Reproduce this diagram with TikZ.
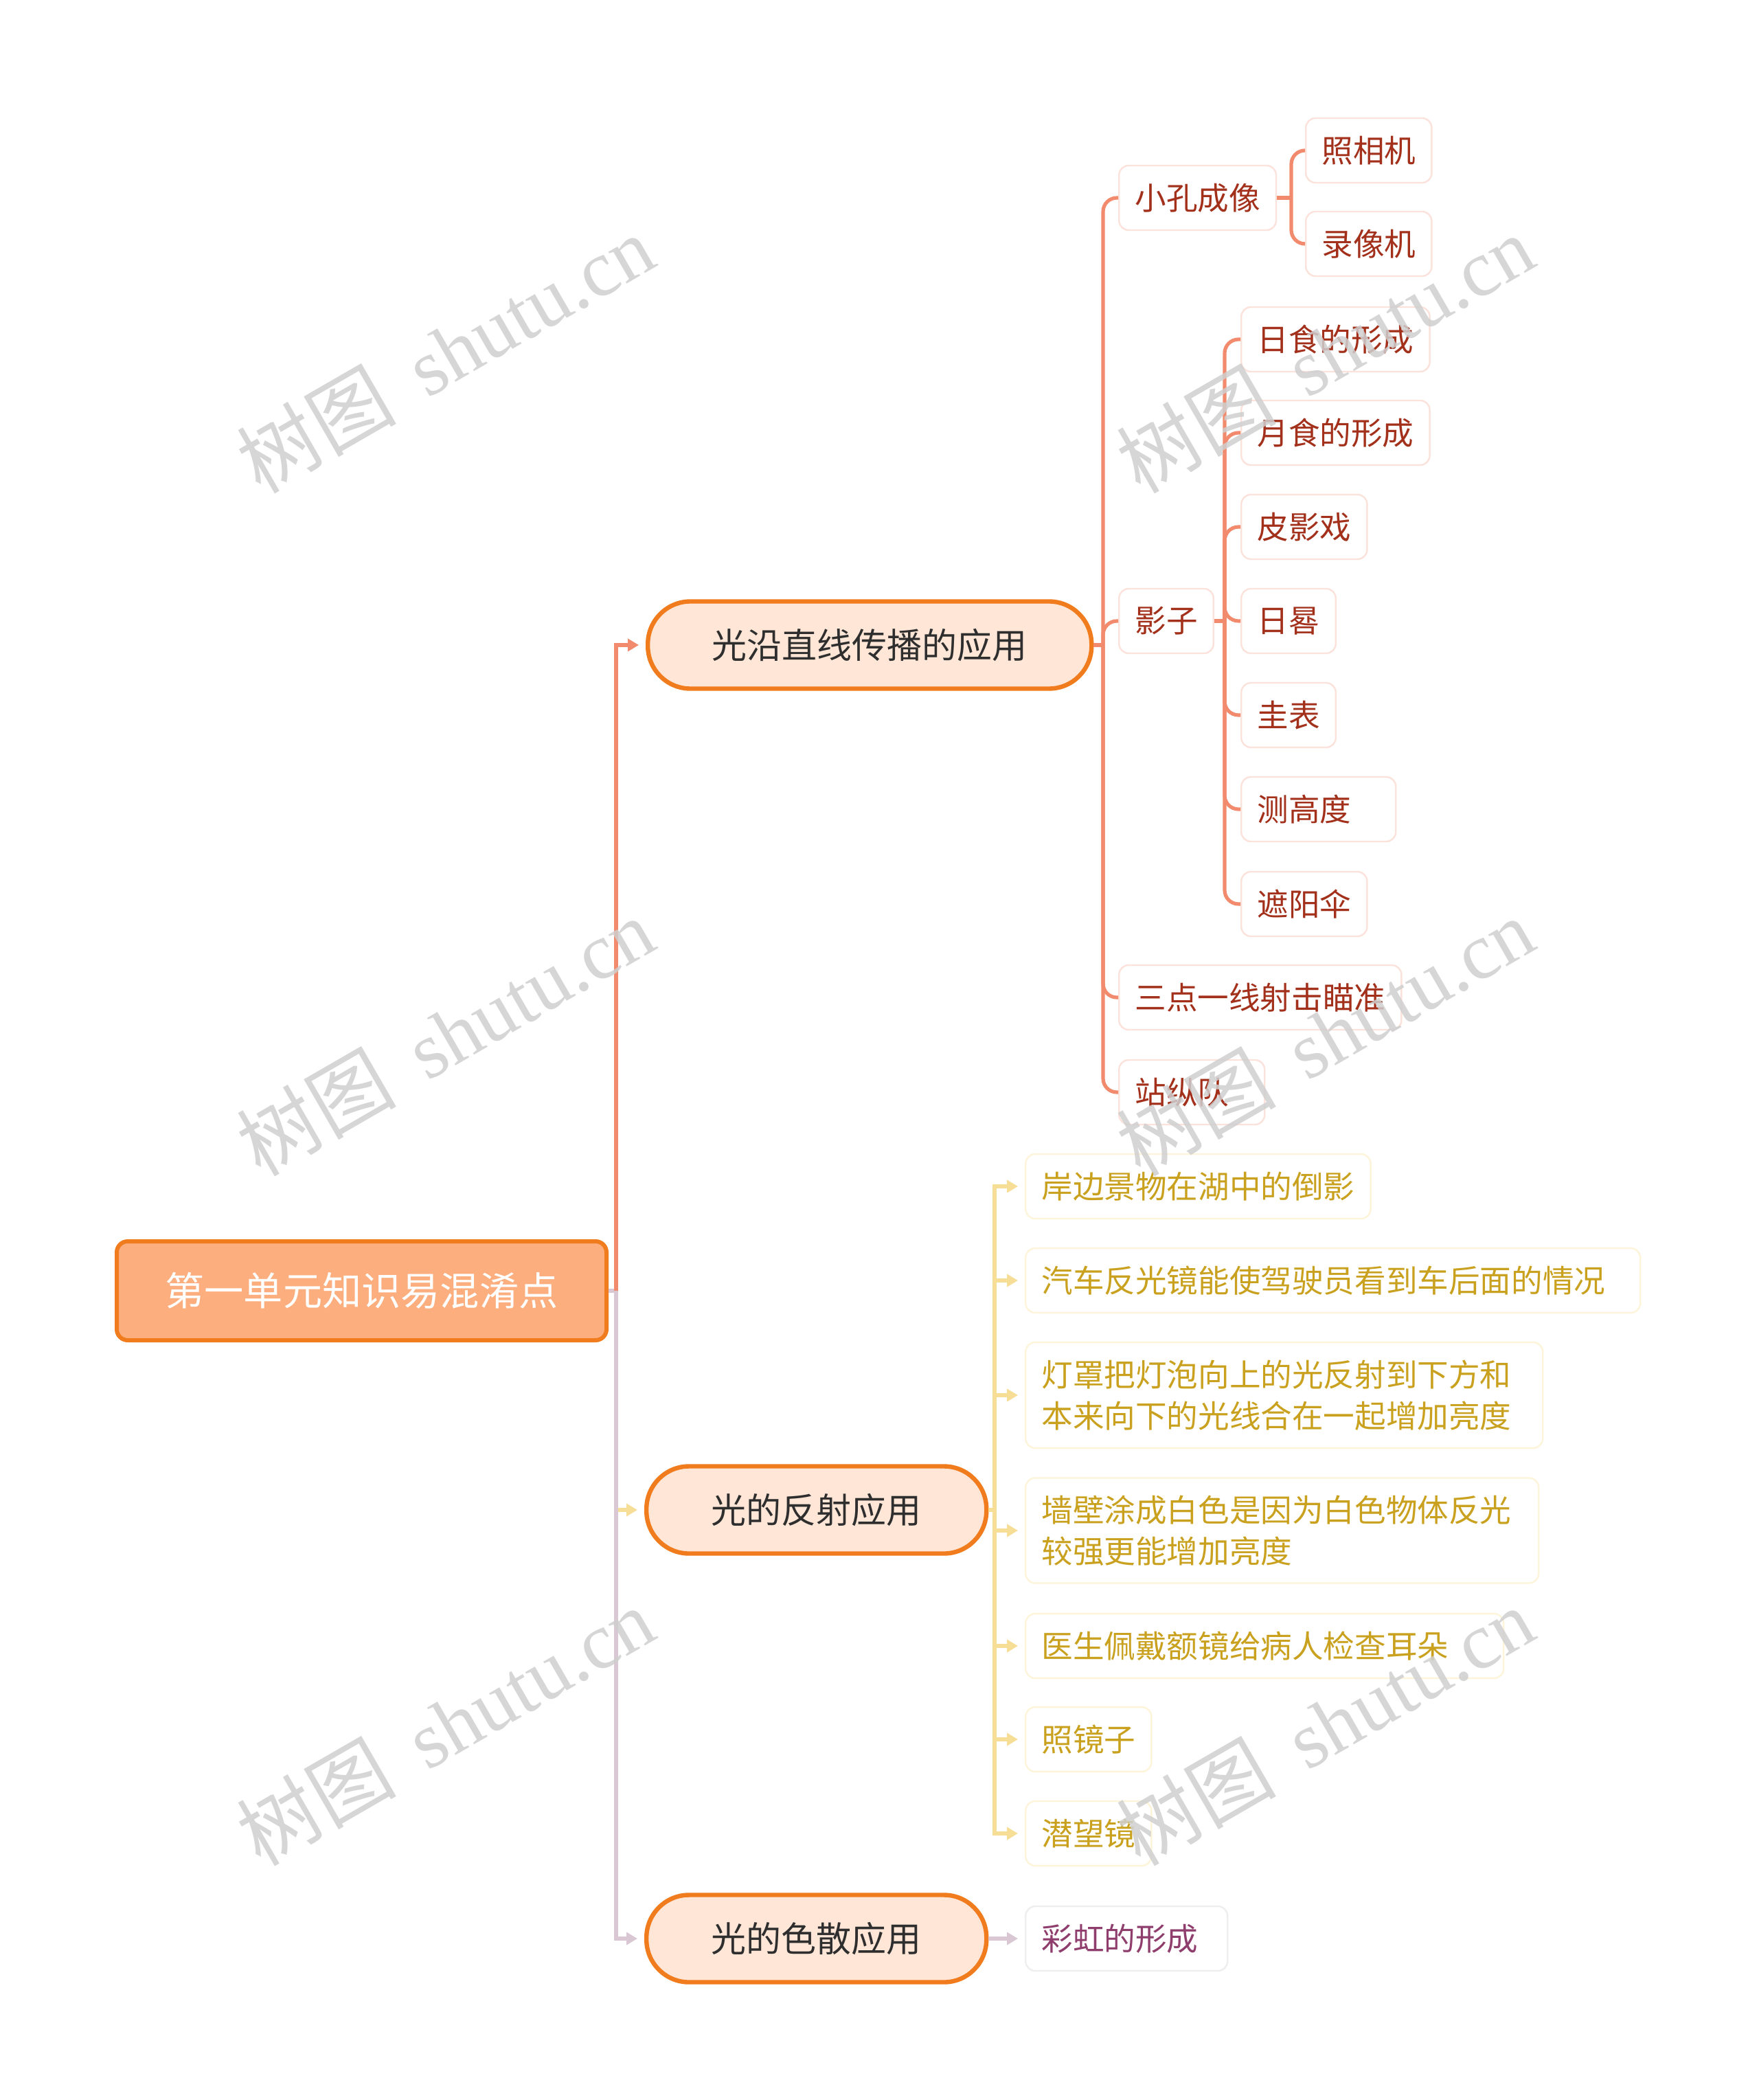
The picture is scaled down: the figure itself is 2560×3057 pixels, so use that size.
\documentclass[tikz,border=0pt]{standalone}
\usepackage{fontspec}
\setmainfont{Noto Sans CJK SC}
\newfontfamily\wmlat{Liberation Serif}
\usetikzlibrary{arrows.meta}
\definecolor{salmon}{HTML}{F28B6E}
\definecolor{greyp}{HTML}{D9C8D3}
\definecolor{yel}{HTML}{F7DE96}
\definecolor{orb}{HTML}{F07C1E}
\definecolor{lonefill}{HTML}{FFE6D7}
\definecolor{lonetxt}{HTML}{2E2E2E}
\definecolor{rootfill}{HTML}{FCAE7E}
\definecolor{pinkb}{HTML}{FBE2DA}
\definecolor{redtxt}{HTML}{A2301B}
\definecolor{yelb}{HTML}{FDF4DA}
\definecolor{goldtxt}{HTML}{C9A11E}
\definecolor{greyb}{HTML}{F0EDEF}
\definecolor{purtxt}{HTML}{8E3D6C}
\definecolor{wmgrey}{HTML}{CFCFCF}
\tikzset{
  rootbox/.style={draw=orb, line width=1.5pt, fill=rootfill, rounded corners=4pt,
    minimum width=178.25pt, minimum height=36pt, text=white,
    font=\fontsize{14.3}{17}\selectfont, inner sep=0pt},
  topicbox/.style={draw=orb, line width=1.6pt, fill=lonefill, rounded corners=15.5pt,
    minimum height=31.75pt, minimum width=#1, text=lonetxt,
    font=\fontsize{12.75}{15}\selectfont, anchor=west, inner sep=0pt},
  redbox/.style={draw=pinkb, line width=0.6pt, fill=white, rounded corners=3.5pt,
    minimum height=23.5pt, inner xsep=5.8pt, inner ysep=0pt, text=redtxt,
    font=\fontsize{11.4}{15}\selectfont, anchor=west, align=left},
  goldbox/.style={redbox, draw=yelb, text=goldtxt},
  purbox/.style={redbox, draw=greyb, text=purtxt},
  salline/.style={draw=salmon, line width=1.3pt, rounded corners=5pt},
  yelline/.style={draw=yel, line width=1.4pt},
  greyline/.style={draw=greyp, line width=1.4pt},
  tipped/.style={-{Triangle[length=4pt,width=4.5pt]}, shorten >=2.5pt},
  watermark/.style={text=wmgrey, text opacity=0.85, rotate=30,
    font=\fontsize{29}{30}\selectfont, inner sep=0pt}
}
\begin{document}
\begin{tikzpicture}[x=0.25pt,y=-0.25pt]
\useasboundingbox (0,0) rectangle (2560,3057);
\fill[white] (0,0) rectangle (2560,3057);

% root and main topics
\node[rootbox] (root) at (526.5,1879) {第一单元知识易混淆点};
\node[topicbox=161.5pt] (ta) at (940,939) {光沿直线传播的应用};
\node[topicbox=123.75pt] (tb) at (938,2198) {光的反射应用};
\node[topicbox=123.75pt] (tc) at (938,2822) {光的色散应用};

% branch 1
\node[redbox] (a1) at (1628,288) {小孔成像};
\node[redbox] (a11) at (1900,219) {照相机};
\node[redbox] (a12) at (1900,355) {录像机};
\node[redbox] (a2) at (1628,904) {影子};
\node[redbox] (a21) at (1806,494) {日食的形成};
\node[redbox] (a22) at (1806,630) {月食的形成};
\node[redbox] (a23) at (1806,767) {皮影戏};
\node[redbox] (a24) at (1806,904) {日晷};
\node[redbox] (a25) at (1806,1041) {圭表};
\node[redbox, text width=44.65pt] (a26) at (1806,1178) {测高度};
\node[redbox] (a27) at (1806,1316) {遮阳伞};
\node[redbox] (a3) at (1628,1452) {三点一线射击瞄准};
\node[redbox, text width=41.4pt] (a4) at (1628,1590) {站纵队};

% branch 2
\node[goldbox] (b1) at (1492,1727) {岸边景物在湖中的倒影};
\node[goldbox, text width=212.15pt] (b2) at (1492,1864) {汽车反光镜能使驾驶员看到车后面的情况};
\node[goldbox, text width=176.65pt, minimum height=38.5pt] (b3) at (1492,2031) {灯罩把灯泡向上的光反射到下方和\\本来向下的光线合在一起增加亮度};
\node[goldbox, text width=175.15pt, minimum height=38.25pt] (b4) at (1492,2228) {墙壁涂成白色是因为白色物体反光\\较强更能增加亮度};
\node[goldbox, text width=162.4pt] (b5) at (1492,2396) {医生佩戴额镜给病人检查耳朵};
\node[goldbox] (b6) at (1492,2532) {照镜子};
\node[goldbox] (b7) at (1492,2669) {潜望镜};

% branch 3
\node[purbox, text width=61.9pt] (c1) at (1492,2822) {彩虹的形成};

% trunk coordinates
\coordinate (t0) at (897,1879);
\coordinate (t1) at (1606,939);
\coordinate (t2) at (1880,288);
\coordinate (t3) at (1783,904);
\coordinate (t4) at (1448,2198);

% level 0 connectors
\draw[greyline] (root.east) -- (t0);
\draw[yelline, tipped] (t0) |- (tb.west);
\draw[greyline, tipped] (t0) |- (tc.west);
\draw[draw=salmon, line width=1.4pt, tipped] (t0) |- (ta.west);

% branch 1 connectors
\draw[salline] (ta.east) -- (t1);
\foreach \n in {a1,a2,a3,a4} \draw[salline] (t1) |- (\n.west);
\draw[salline] (a1.east) -- (t2);
\foreach \n in {a11,a12} \draw[salline] (t2) |- (\n.west);
\draw[salline] (a2.east) -- (t3);
\foreach \n in {a21,a22,a23,a24,a25,a26,a27} \draw[salline] (t3) |- (\n.west);

% branch 2 connectors
\draw[yelline] (tb.east) -- (t4);
\foreach \n in {b1,b2,b3,b4,b5,b6,b7} \draw[yelline, tipped] (t4) |- (\n.west);

% branch 3 connector
\draw[greyline, tipped] (tc.east) -- (c1.west);

% watermarks
\foreach \wx in {648,1929} {
  \foreach \wy in {515,1509,2513} {
    \node[watermark] at (\wx,\wy) {树图\,{\wmlat\ shutu.cn}};
  }
}
\end{tikzpicture}
\end{document}
